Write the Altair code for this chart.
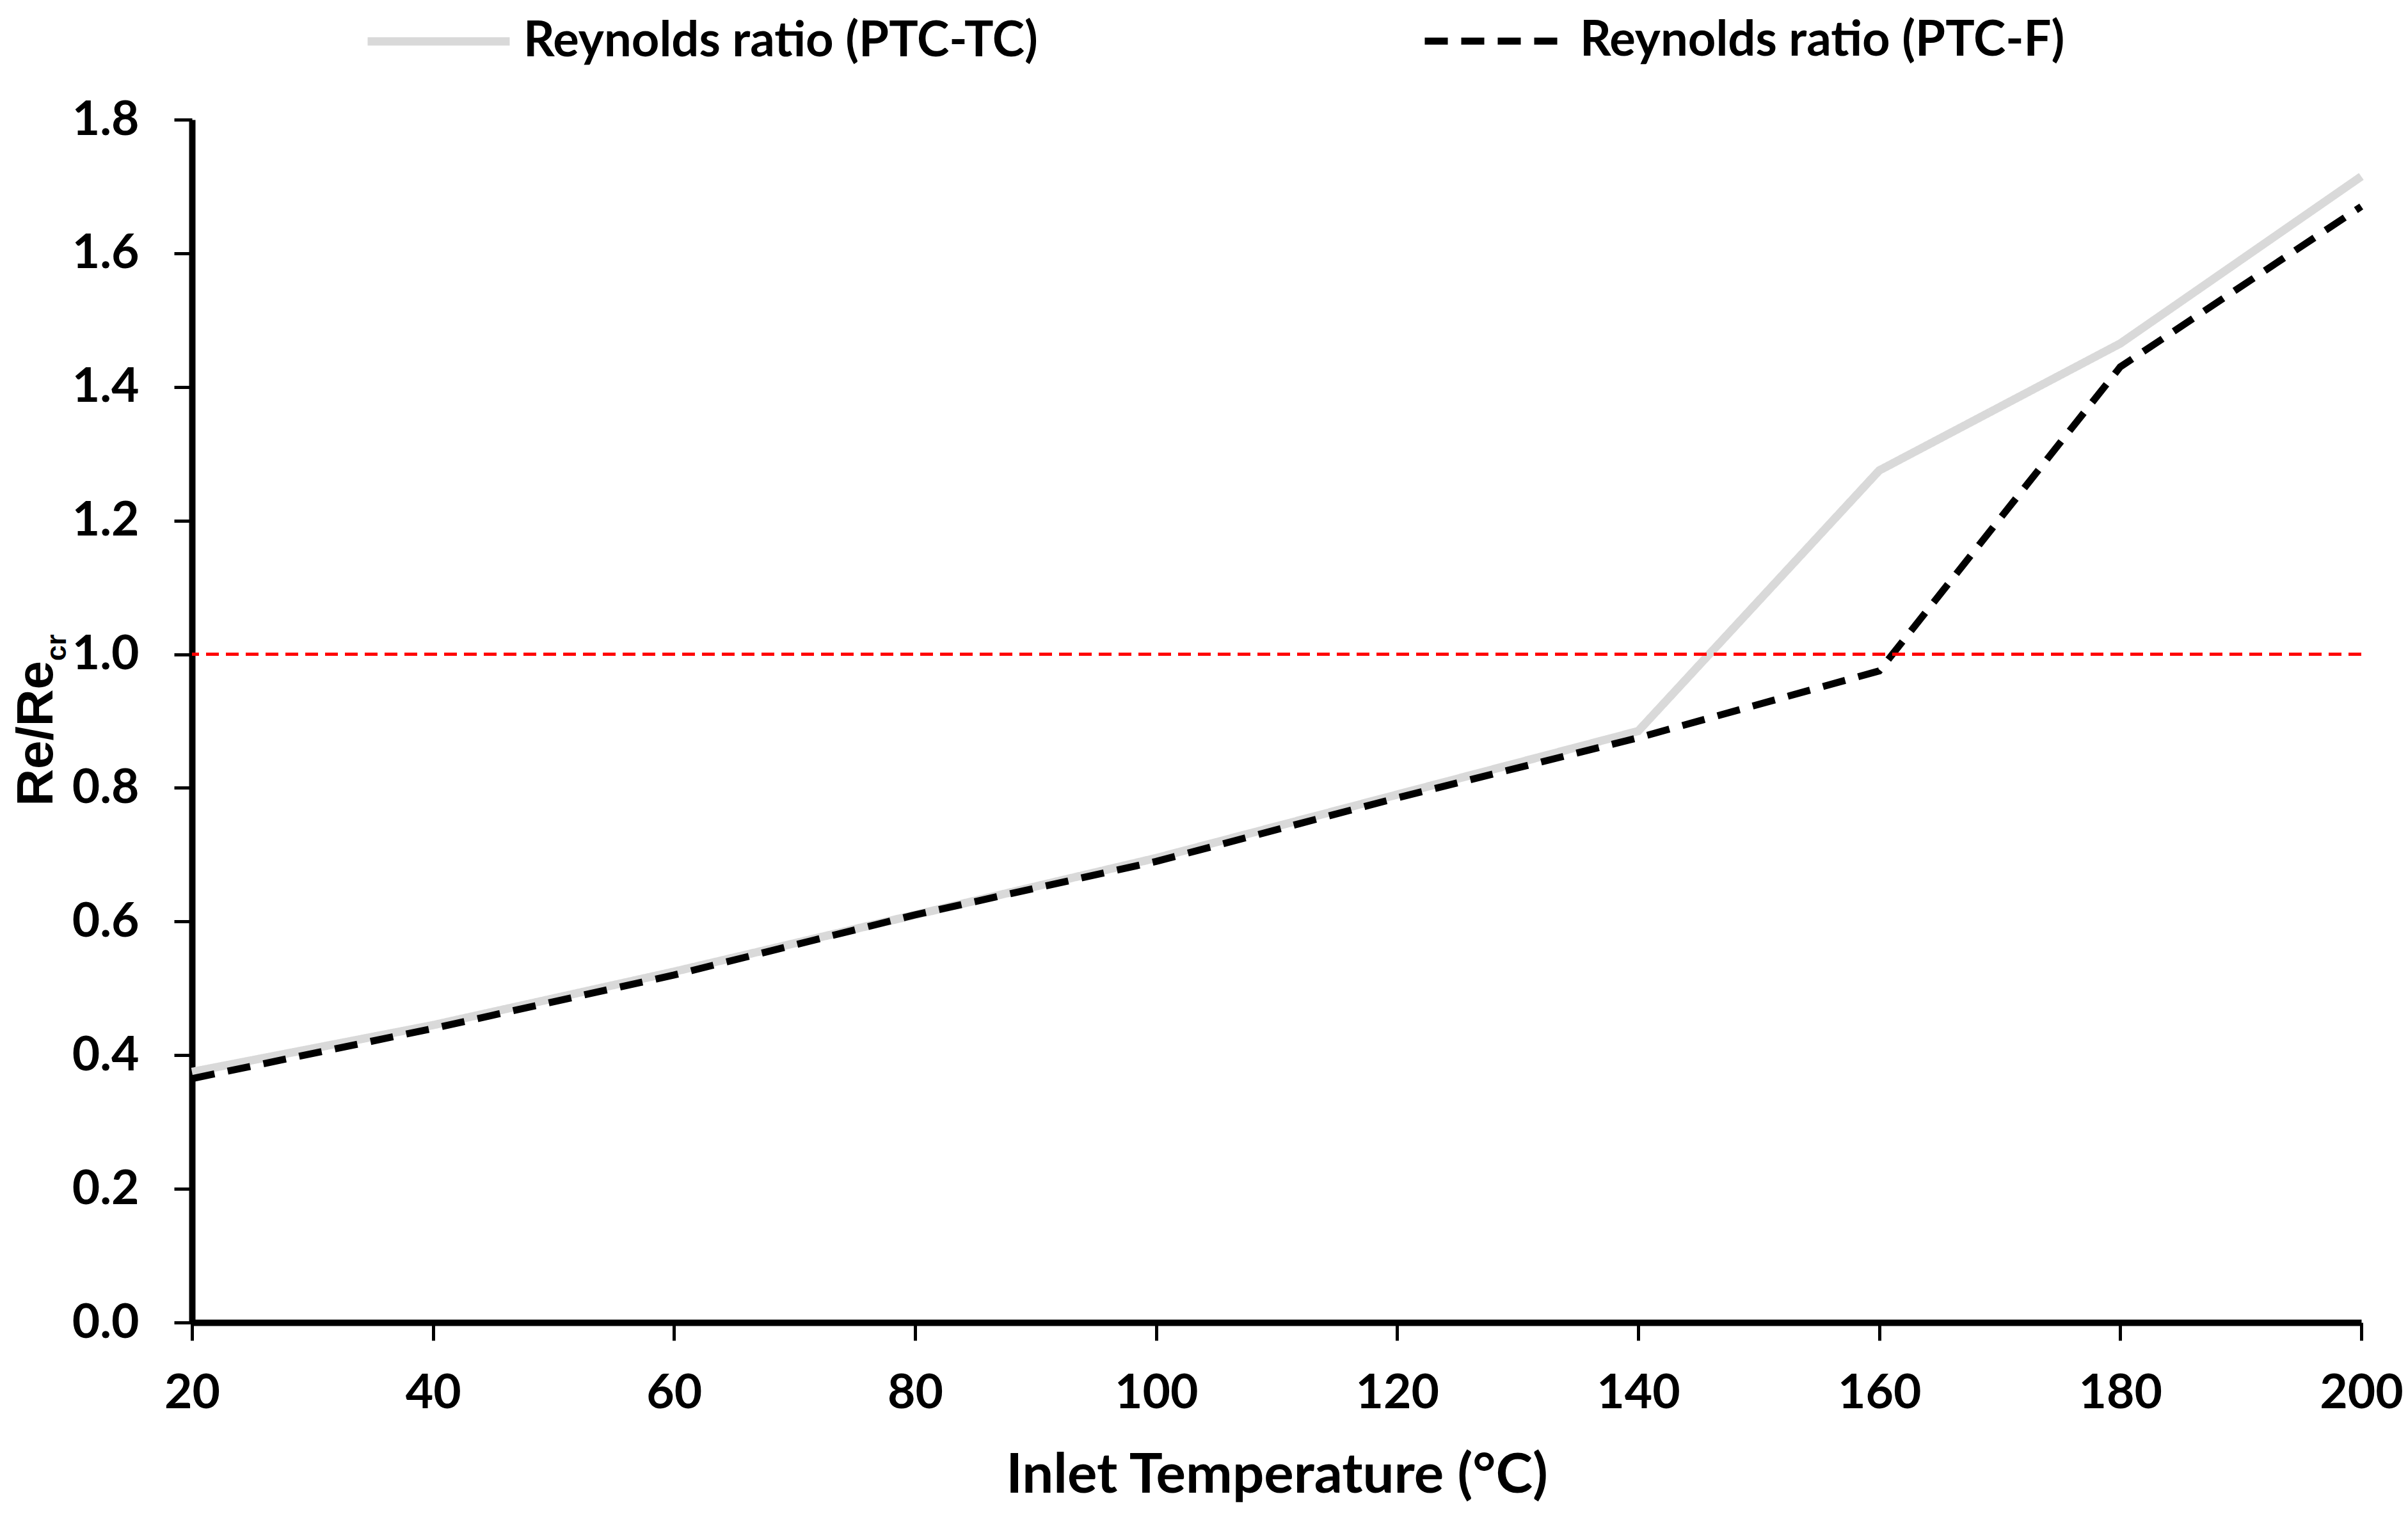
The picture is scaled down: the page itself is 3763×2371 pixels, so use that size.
import altair as alt
import pandas as pd

# ---- data ----
temps = [20, 40, 60, 80, 100, 120, 140, 160, 180, 200]
ptc_tc = [0.375, 0.445, 0.525, 0.61, 0.695, 0.79, 0.885, 1.275, 1.465, 1.715]
ptc_f = [0.365, 0.44, 0.52, 0.61, 0.69, 0.785, 0.875, 0.975, 1.43, 1.67]
series_names = ["Reynolds ratio (PTC-TC)", "Reynolds ratio (PTC-F)"]
critical = [1.0]
x_ticks = [20, 40, 60, 80, 100, 120, 140, 160, 180, 200]
y_ticks = [0.0, 0.2, 0.4, 0.6, 0.8, 1.0, 1.2, 1.4, 1.6, 1.8]
x_title = "Inlet Temperature (°C)"
y_title_main = ["Re/Re"]
y_title_sub = ["cr"]

df = pd.DataFrame({
    "T": temps * 2,
    "ratio": ptc_tc + ptc_f,
    "series": [series_names[0]] * len(temps) + [series_names[1]] * len(temps),
})

FONT = "Lato"

legend = alt.Legend(
    title=None,
    orient="none",
    legendX=268,
    legendY=-240,
    direction="horizontal",
    symbolType="stroke",
    symbolSize=49284,
    symbolStrokeWidth=14,
    labelFont=FONT,
    labelFontWeight="bold",
    labelFontSize=76,
    labelColor="black",
    labelLimit=3000,
    labelOffset=15,
    columnPadding=582,
    padding=0,
)

x_enc = alt.X(
    "T:Q",
    scale=alt.Scale(domain=[20, 200], nice=False, zero=False),
    axis=alt.Axis(
        values=x_ticks,
        title=x_title,
        labelFlush=False,
        labelOverlap=False,
        labelPadding=46,
        titlePadding=48,
    ),
)
y_enc = alt.Y(
    "ratio:Q",
    scale=alt.Scale(domain=[0, 1.8], nice=False),
    axis=alt.Axis(values=y_ticks, format=".1f", title=None, labelPadding=55, labelOverlap=False),
)

lines = alt.Chart(df).mark_line(strokeCap="butt").encode(
    x=x_enc,
    y=y_enc,
    color=alt.Color(
        "series:N",
        scale=alt.Scale(domain=series_names, range=["#d9d9d9", "#000000"]),
        legend=legend,
    ),
    strokeDash=alt.StrokeDash(
        "series:N",
        scale=alt.Scale(domain=series_names, range=[[1, 0], [36, 21]]),
        legend=legend,
    ),
    strokeWidth=alt.StrokeWidth(
        "series:N",
        scale=alt.Scale(domain=series_names, range=[13, 11]),
        legend=None,
    ),
)

rule = alt.Chart(pd.DataFrame({"ratio": critical})).mark_rule(
    color="#ff0000", strokeWidth=5, strokeDash=[20, 11]
).encode(y=alt.Y("ratio:Q", title=None))

yt_main = alt.Chart(pd.DataFrame({"t": y_title_main})).mark_text(
    angle=270, align="right", baseline="alphabetic", font="Liberation Sans",
    fontWeight="bold", fontSize=80, color="black"
).encode(text="t:N", x=alt.value(-218), y=alt.value(846))

yt_sub = alt.Chart(pd.DataFrame({"t": y_title_sub})).mark_text(
    angle=270, align="left", baseline="alphabetic", font="Liberation Sans",
    fontWeight="bold", fontSize=44, color="black"
).encode(text="t:N", x=alt.value(-197), y=alt.value(846))

chart = alt.layer(lines, rule, yt_main, yt_sub).properties(
    width=3390,
    height=1880,
    padding={"left": 292, "top": 179, "right": 65, "bottom": 295},
    autosize=alt.AutoSizeParams(type="none"),
    background="white",
).configure_view(stroke=None).configure_axis(
    grid=False,
    domainColor="black",
    domainWidth=10,
    tickColor="black",
    tickWidth=5,
    tickSize=28,
    labelFont=FONT,
    labelFontWeight="bold",
    labelFontSize=75,
    labelColor="black",
    titleFont=FONT,
    titleFontWeight="bold",
    titleFontSize=87,
    titleColor="black",
)

chart.save("out.html", embed_options={"renderer": "svg", "actions": False})
